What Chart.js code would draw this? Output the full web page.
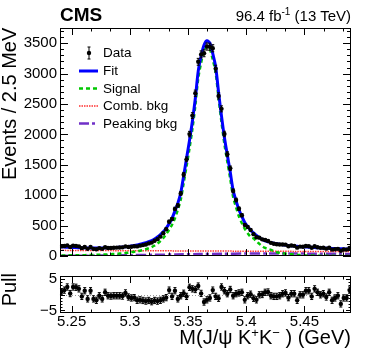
<!DOCTYPE html>
<html>
<head>
<meta charset="utf-8">
<script src="https://cdn.jsdelivr.net/npm/chart.js@4.4.1/dist/chart.umd.min.js"></script>
<style>
  body { margin: 0; background: #fff; font-family: "Liberation Sans", Arial, sans-serif; }
  #wrap { position: relative; width: 374px; height: 359px; overflow: hidden; }
  #mainBox { position: absolute; left: 0; top: 0; width: 374px; height: 268px; }
  #pullBox { position: absolute; left: 0; top: 264px; width: 374px; height: 95px; }
  .txt { position: absolute; white-space: nowrap; color: #000; line-height: 1; }
  .rot { transform-origin: 0 0; transform: rotate(-90deg); text-align: right; }
  .sup { position: relative; }
</style>
</head>
<body>
<div id="wrap">
  <div id="mainBox"><canvas id="mainChart"></canvas></div>
  <div id="pullBox"><canvas id="pullChart"></canvas></div>

  <div class="txt" style="left:60px;top:5px;font-size:19px;font-weight:bold">CMS</div>
  <div class="txt" style="right:23px;top:8px;font-size:15px">96.4 fb<span class="sup" style="font-size:10px;top:-6px">-1</span> (13 TeV)</div>
  <div class="txt rot" style="left:-1px;top:180px;width:152px;font-size:20px">Events / 2.5 MeV</div>
  <div class="txt rot" style="left:-1px;top:333px;width:60px;font-size:20px">Pull</div>
  <div class="txt" style="right:23px;top:327px;font-size:20px">M(J/ψ K<span class="sup" style="font-size:13px;top:-7px">+</span>K<span class="sup" style="font-size:13px;top:-7px">−</span> ) (GeV)</div>

  <svg style="position:absolute;left:0;top:0" width="374" height="359">
    <line x1="89" y1="47" x2="89" y2="59" stroke="#000" stroke-width="1"/>
    <line x1="87.5" y1="47" x2="90.5" y2="47" stroke="#000" stroke-width="1"/>
    <line x1="87.5" y1="59" x2="90.5" y2="59" stroke="#000" stroke-width="1"/>
    <circle cx="89" cy="53" r="2.2" fill="#000"/>
    <line x1="79" y1="71" x2="98" y2="71" stroke="#0000ff" stroke-width="3"/>
    <line x1="79" y1="88.5" x2="98" y2="88.5" stroke="#00c800" stroke-width="2.5" stroke-dasharray="4,3"/>
    <line x1="79" y1="106" x2="98" y2="106" stroke="#ff3030" stroke-width="1.6" stroke-dasharray="1.5,1"/>
    <line x1="79" y1="123.5" x2="98" y2="123.5" stroke="#7030c8" stroke-width="2.5" stroke-dasharray="10,3,3,3"/>
  </svg>
  <div class="txt" style="left:103px;top:46px;font-size:13.5px">Data</div>
  <div class="txt" style="left:103px;top:64px;font-size:13.5px">Fit</div>
  <div class="txt" style="left:103px;top:81.5px;font-size:13.5px">Signal</div>
  <div class="txt" style="left:103px;top:99px;font-size:13.5px">Comb. bkg</div>
  <div class="txt" style="left:103px;top:116.5px;font-size:13.5px">Peaking bkg</div>
</div>

<script>
// bin centres, 2.5 MeV bins (GeV)
const massBins = [
  5.24125, 5.24375, 5.24625, 5.24875, 5.25125, 5.25375, 5.25625, 5.25875, 5.26125, 5.26375,
  5.26625, 5.26875, 5.27125, 5.27375, 5.27625, 5.27875, 5.28125, 5.28375, 5.28625, 5.28875,
  5.29125, 5.29375, 5.29625, 5.29875, 5.30125, 5.30375, 5.30625, 5.30875, 5.31125, 5.31375,
  5.31625, 5.31875, 5.32125, 5.32375, 5.32625, 5.32875, 5.33125, 5.33375, 5.33625, 5.33875,
  5.34125, 5.34375, 5.34625, 5.34875, 5.35125, 5.35375, 5.35625, 5.35875, 5.36125, 5.36375,
  5.36625, 5.36875, 5.37125, 5.37375, 5.37625, 5.37875, 5.38125, 5.38375, 5.38625, 5.38875,
  5.39125, 5.39375, 5.39625, 5.39875, 5.40125, 5.40375, 5.40625, 5.40875, 5.41125, 5.41375,
  5.41625, 5.41875, 5.42125, 5.42375, 5.42625, 5.42875, 5.43125, 5.43375, 5.43625, 5.43875,
  5.44125, 5.44375, 5.44625, 5.44875, 5.45125, 5.45375, 5.45625, 5.45875, 5.46125, 5.46375,
  5.46625, 5.46875, 5.47125, 5.47375, 5.47625, 5.47875, 5.48125, 5.48375, 5.48625, 5.48875
];
const dataVals = [
  160, 164, 174, 147, 170, 166, 159, 129, 149, 118,
  147, 117, 112, 129, 118, 143, 132, 132, 136, 138,
  141, 142, 159, 149, 152, 161, 158, 170, 179, 190,
  207, 220, 250, 277, 319, 374, 441, 565, 608, 775,
  832, 1030, 1338, 1590, 2005, 2309, 2677, 3194, 3316, 3335,
  3445, 3441, 3417, 3082, 2633, 2420, 2007, 1674, 1443, 1071,
  921, 777, 670, 512, 479, 429, 359, 309, 302, 274,
  263, 247, 216, 202, 193, 188, 190, 187, 161, 173,
  167, 137, 155, 151, 164, 161, 136, 161, 145, 134,
  135, 121, 136, 105, 112, 118, 87, 107, 105, 131
];
const fitVals = [
  148, 146, 144, 142, 140, 138, 137, 135, 134, 133,
  132, 132, 132, 132, 133, 134, 135, 137, 139, 141,
  144, 147, 152, 158, 165, 173, 182, 192, 205, 220,
  235, 255, 280, 312, 352, 400, 460, 530, 620, 740,
  870, 1040, 1320, 1610, 1900, 2220, 2590, 3040, 3290, 3470,
  3540, 3500, 3330, 3110, 2690, 2300, 1950, 1660, 1380, 1080,
  910, 760, 650, 550, 485, 425, 380, 338, 302, 272,
  250, 233, 220, 209, 200, 192, 185, 179, 173, 168,
  163, 159, 155, 151, 148, 145, 142, 139, 136, 134,
  131, 129, 127, 125, 123, 121, 119, 118, 116, 115
];
const signalVals = [
  10, 10, 10, 11, 11, 12, 12, 13, 14, 15,
  16, 17, 19, 20, 22, 24, 27, 30, 33, 36,
  40, 44, 49, 55, 62, 69, 78, 87, 99, 112,
  128, 147, 172, 205, 245, 295, 360, 430, 515, 620,
  765, 930, 1200, 1480, 1770, 2090, 2470, 2920, 3180, 3370,
  3445, 3400, 3230, 3010, 2590, 2200, 1840, 1550, 1270, 970,
  800, 650, 540, 445, 375, 315, 290, 240, 200, 160,
  132, 115, 100, 80, 62, 52, 44, 38, 32, 27,
  22, 18, 15, 12, 10, 8, 7, 6, 5, 4,
  4, 3, 3, 3, 2, 2, 2, 2, 2, 2
];
const pullVals = [
  1.0, 1.5, 2.5, 0.4, 2.5, 2.4, 1.9, -0.5, 1.3, -1.3,
  1.3, -1.3, -1.75, -0.3, -1.3, 0.8, -0.3, -0.4, -0.3, -0.3,
  -0.3, -0.4, 0.6, -0.7, -1.0, -0.9, -1.75, -1.6, -1.8, -2.0,
  -1.8, -2.2, -1.8, -2.0, -1.75, -1.3, -0.9, 1.5, -0.5, 1.3,
  -1.3, -0.3, 0.5, -0.5, 2.4, 1.9, 1.7, 2.8, 0.45, -2.3,
  -1.6, -1.0, 1.5, -0.5, -1.1, 2.5, 1.3, 0.35, 1.7, -0.3,
  0.35, 0.6, 0.8, -1.6, -0.3, 0.2, -1.1, -1.6, 0, 0.1,
  0.8, 0.9, -0.3, -0.5, -0.5, -0.3, 0.35, 0.6, -0.9, 0.35,
  0.35, -1.75, 0, 0, 1.3, 1.3, -0.5, 1.9, 0.8, 0,
  0.35, -0.7, 0.8, -1.75, -1, -0.3, -2.9, -1, -1, 1.5
];
const combMass = [5.24, 5.29, 5.34, 5.39, 5.44, 5.49];
const combVals = [93, 88, 84, 80, 76, 73];
const peakMass = [5.24, 5.26, 5.28, 5.30, 5.32, 5.34, 5.36, 5.38, 5.40, 5.42, 5.44, 5.46, 5.48, 5.49];
const peakVals = [2, 4, 8, 13, 19, 26, 32, 37, 40, 41, 40, 38, 35, 33];

const xTickLabels = [5.25, 5.3, 5.35, 5.4, 5.45];
const yTickLabels = [0, 500, 1000, 1500, 2000, 2500, 3000, 3500];
const pullTickLabels = [-5, 0, 5];

Chart.defaults.font.family = '"Liberation Sans", Arial, sans-serif';
Chart.defaults.color = '#000';

const pts = (xs, ys) => xs.map((x, i) => ({ x: x, y: ys[i] }));

// vertical error bars with small caps
const errorBars = {
  id: 'errorBars',
  afterDatasetsDraw(chart) {
    const ctx = chart.ctx, xs = chart.scales.x, ys = chart.scales.y;
    chart.data.datasets.forEach(ds => {
      if (!ds.errors) return;
      ctx.save();
      ctx.strokeStyle = '#000';
      ctx.lineWidth = 1;
      ctx.beginPath();
      ds.data.forEach((p, i) => {
        const px = xs.getPixelForValue(p.x);
        const y1 = ys.getPixelForValue(p.y - ds.errors[i]);
        const y2 = ys.getPixelForValue(p.y + ds.errors[i]);
        ctx.moveTo(px, y1); ctx.lineTo(px, y2);
        ctx.moveTo(px - 1.5, y1); ctx.lineTo(px + 1.5, y1);
        ctx.moveTo(px - 1.5, y2); ctx.lineTo(px + 1.5, y2);
      });
      ctx.stroke();
      ctx.restore();
    });
  }
};

// ROOT style frame with inward ticks
const rootFrame = {
  id: 'rootFrame',
  beforeDatasetsDraw(chart, args, o) {
    if (!o.zeroLine) return;
    const { ctx, chartArea: a, scales: { y } } = chart;
    const py = Math.round(y.getPixelForValue(0)) + 0.5;
    ctx.save();
    ctx.strokeStyle = '#999';
    ctx.lineWidth = 1;
    ctx.setLineDash([1, 2]);
    ctx.beginPath(); ctx.moveTo(a.left, py); ctx.lineTo(a.right, py); ctx.stroke();
    ctx.restore();
  },
  afterDraw(chart, args, o) {
    const { ctx, chartArea: a, scales: { x, y } } = chart;
    ctx.save();
    ctx.strokeStyle = '#000';
    ctx.lineWidth = 1;
    ctx.strokeRect(a.left + 0.5, a.top + 0.5, a.right - a.left - 1, a.bottom - a.top - 1);
    ctx.beginPath();
    const xStep = 0.05 / 3;
    for (let k = -3; k <= 20; k++) {
      const v = 5.25 + k * xStep;
      if (v < x.min || v > x.max) continue;
      const len = k % 3 === 0 ? o.xMajor : o.xMinor;
      const p = Math.round(x.getPixelForValue(v)) + 0.5;
      ctx.moveTo(p, a.bottom); ctx.lineTo(p, a.bottom - len);
      ctx.moveTo(p, a.top); ctx.lineTo(p, a.top + len);
    }
    const n = Math.round((o.yTop - o.yBottom) / o.yStep);
    for (let k = 0; k <= n; k++) {
      const v = o.yBottom + k * o.yStep;
      const len = Math.abs(v % o.yMajorStep) < 1e-6 ? o.yMajor : o.yMinor;
      const p = Math.round(y.getPixelForValue(v)) + 0.5;
      ctx.moveTo(a.left, p); ctx.lineTo(a.left + len, p);
      ctx.moveTo(a.right, p); ctx.lineTo(a.right - len, p);
    }
    ctx.stroke();
    ctx.restore();
  }
};

new Chart(document.getElementById('mainChart'), {
  type: 'line',
  data: {
    datasets: [
      {
        label: 'Data', data: pts(massBins, dataVals), errors: dataVals.map(v => Math.sqrt(v)),
        showLine: false, pointRadius: 2.2, pointBackgroundColor: '#000', pointBorderWidth: 0, order: 0
      },
      {
        label: 'Fit', data: pts(massBins, fitVals), borderColor: '#0000ff', borderWidth: 3,
        pointRadius: 0, tension: 0.3, order: 1
      },
      {
        label: 'Signal', data: pts(massBins, signalVals), borderColor: '#00c800', borderWidth: 2.5,
        borderDash: [4, 3], pointRadius: 0, tension: 0.3, order: 2
      },
      {
        label: 'Comb. bkg', data: pts(combMass, combVals), borderColor: '#ff3030', borderWidth: 1.5,
        borderDash: [1.5, 1], pointRadius: 0, tension: 0.3, order: 3
      },
      {
        label: 'Peaking bkg', data: pts(peakMass, peakVals), borderColor: '#7030c8', borderWidth: 2.5,
        borderDash: [10, 3, 3, 3], pointRadius: 0, tension: 0.3, order: 4
      }
    ]
  },
  options: {
    responsive: true,
    maintainAspectRatio: false,
    animation: false,
    devicePixelRatio: 1,
    layout: { padding: { top: 28, right: 23, bottom: 11, left: 0 } },
    scales: {
      x: { type: 'linear', min: 5.24, max: 5.49, display: false },
      y: {
        min: 0, max: 3750,
        afterBuildTicks: s => { s.ticks = yTickLabels.map(v => ({ value: v })); },
        afterFit: s => { s.width = 60; },
        ticks: { font: { size: 15 }, color: '#000', padding: 3, callback: v => String(v) },
        grid: { display: false, drawTicks: false },
        border: { display: false }
      }
    },
    plugins: {
      legend: { display: false },
      tooltip: { enabled: false },
      rootFrame: { xMajor: 7, xMinor: 3.5, yMajor: 8, yMinor: 4, yBottom: 0, yTop: 3700, yStep: 100, yMajorStep: 500 }
    }
  },
  plugins: [errorBars, rootFrame]
});

new Chart(document.getElementById('pullChart'), {
  type: 'line',
  data: {
    datasets: [
      {
        label: 'Pull', data: pts(massBins, pullVals), errors: pullVals.map(() => 1),
        showLine: false, pointRadius: 2.2, pointBackgroundColor: '#000', pointBorderWidth: 0
      }
    ]
  },
  options: {
    responsive: true,
    maintainAspectRatio: false,
    animation: false,
    devicePixelRatio: 1,
    layout: { padding: { top: 4, right: 23, bottom: 0, left: 0 } },
    scales: {
      x: {
        type: 'linear', min: 5.24, max: 5.49,
        afterBuildTicks: s => { s.ticks = xTickLabels.map(v => ({ value: v })); },
        afterFit: s => { s.height = 46; },
        ticks: { font: { size: 15 }, color: '#000', padding: 0, maxRotation: 0, callback: v => String(+v.toFixed(2)) },
        grid: { display: false, drawTicks: false },
        border: { display: false }
      },
      y: {
        min: -5.8, max: 6,
        afterBuildTicks: s => { s.ticks = pullTickLabels.map(v => ({ value: v })); },
        afterFit: s => { s.width = 60; },
        ticks: { font: { size: 15 }, color: '#000', padding: 3, callback: v => v < 0 ? '\u2212' + Math.abs(v) : String(v) },
        grid: { display: false, drawTicks: false },
        border: { display: false }
      }
    },
    plugins: {
      legend: { display: false },
      tooltip: { enabled: false },
      rootFrame: { xMajor: 7, xMinor: 3.5, yMajor: 5, yMinor: 2.5, yBottom: -5, yTop: 5, yStep: 1, yMajorStep: 5, zeroLine: true }
    }
  },
  plugins: [errorBars, rootFrame]
});
</script>
</body>
</html>
